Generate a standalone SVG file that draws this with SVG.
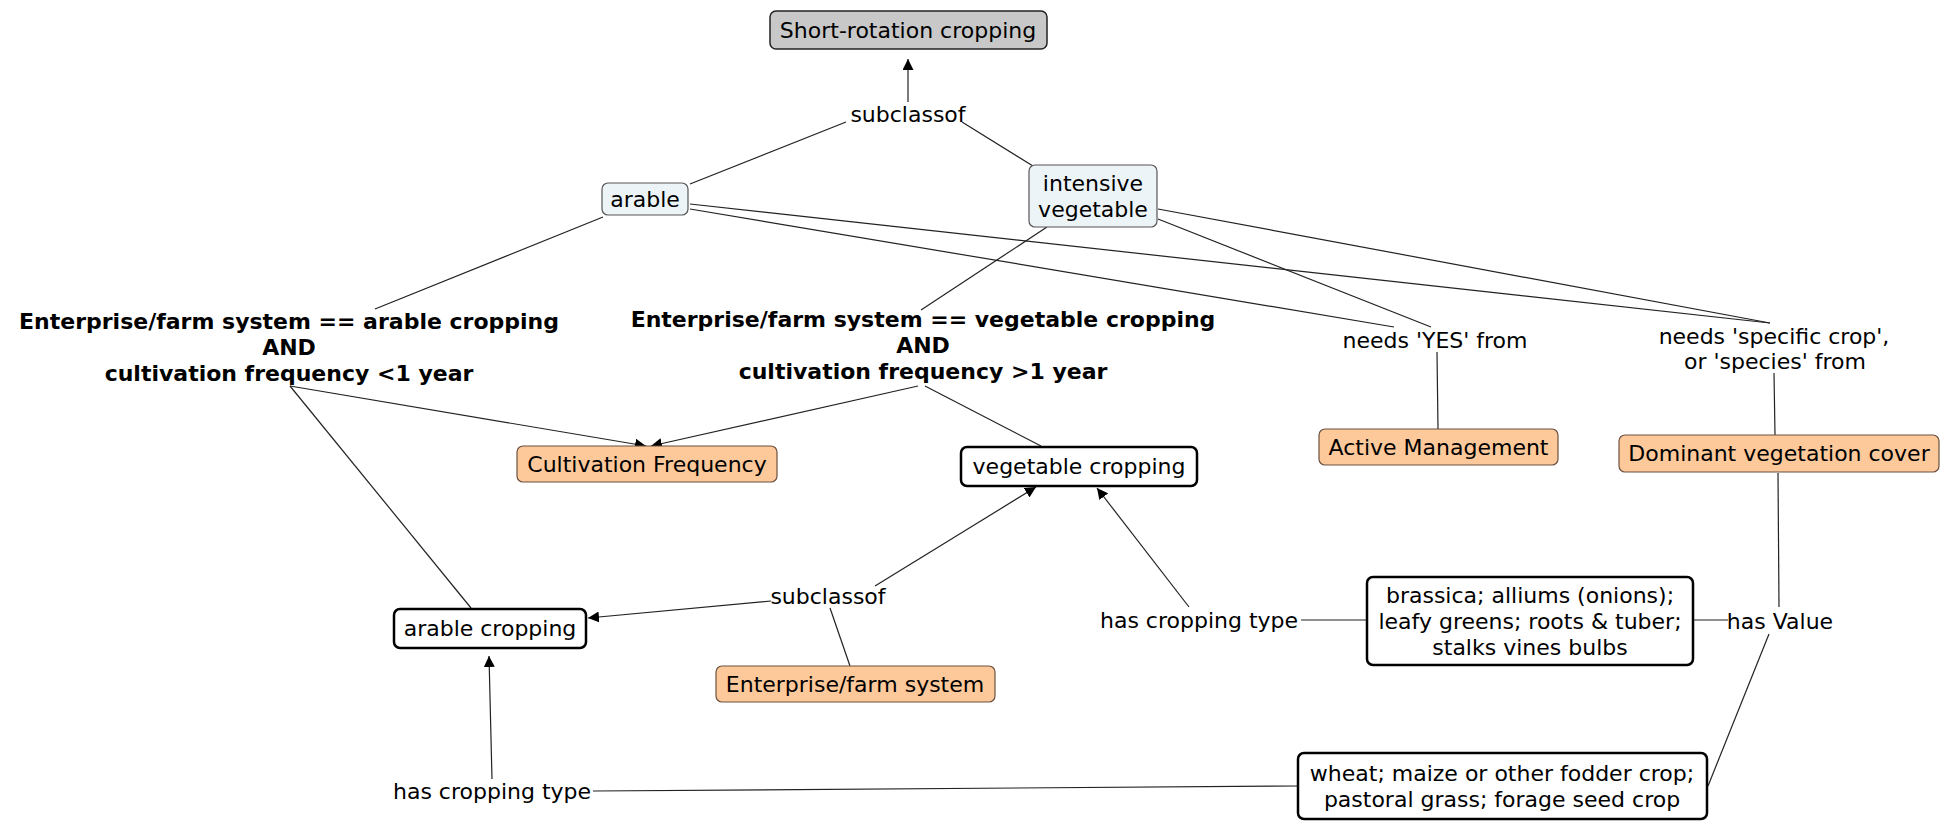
<svg xmlns="http://www.w3.org/2000/svg" width="1959" height="821" viewBox="0 0 1959 821">
  <style>
    text { font-family: "DejaVu Sans", "Liberation Sans", sans-serif; font-size: 22px; fill: #000; text-anchor: middle; dominant-baseline: central; }
    .bold { font-weight: bold; }
    .link { stroke: #222; stroke-width: 1.2; fill: none; }
    .top { fill: #c8c8c8; stroke: #222; stroke-width: 1.5; }
    .cls { fill: #edf4f7; stroke: #555; stroke-width: 1.2; }
    .prop { fill: #fdc99a; stroke: #6b5040; stroke-width: 1.2; }
    .val { fill: #fff; stroke: #000; stroke-width: 2.5; }
  </style>
  <defs>
    <marker id="arrow" viewBox="0 0 10 10" refX="10" refY="5" markerWidth="11" markerHeight="11" markerUnits="userSpaceOnUse" orient="auto">
      <path d="M0,0 L10,5 L0,10 z" fill="#000"/>
    </marker>
  </defs>
  <rect width="1959" height="821" fill="#fff"/>

  <g id="connectors">
    <line class="link" x1="908" y1="102" x2="908" y2="59" marker-end="url(#arrow)"/>
    <line class="link" x1="690" y1="184" x2="846" y2="122"/>
    <line class="link" x1="1033" y1="166" x2="962" y2="122"/>
    <line class="link" x1="603" y1="217" x2="375" y2="309"/>
    <line class="link" x1="1047" y1="227" x2="921" y2="310"/>
    <line class="link" x1="690" y1="209" x2="1394" y2="327"/>
    <line class="link" x1="690" y1="204" x2="1770" y2="323"/>
    <line class="link" x1="1158" y1="219" x2="1431" y2="327"/>
    <line class="link" x1="1158" y1="209" x2="1770" y2="323"/>
    <line class="link" x1="1437" y1="352" x2="1438" y2="429"/>
    <line class="link" x1="1774" y1="373" x2="1775" y2="435"/>
    <line class="link" x1="290" y1="386" x2="646" y2="446" marker-end="url(#arrow)"/>
    <line class="link" x1="918" y1="386" x2="651" y2="446" marker-end="url(#arrow)"/>
    <line class="link" x1="925" y1="386" x2="1041" y2="446"/>
    <line class="link" x1="290" y1="386" x2="471" y2="608"/>
    <line class="link" x1="875" y1="586" x2="1036" y2="487" marker-end="url(#arrow)"/>
    <line class="link" x1="771" y1="601" x2="588" y2="618" marker-end="url(#arrow)"/>
    <line class="link" x1="850" y1="666" x2="830" y2="608"/>
    <line class="link" x1="1189" y1="607" x2="1097" y2="488" marker-end="url(#arrow)"/>
    <line class="link" x1="1301" y1="620" x2="1367" y2="620"/>
    <line class="link" x1="1693" y1="620" x2="1728" y2="620"/>
    <line class="link" x1="1779" y1="607" x2="1778" y2="473"/>
    <line class="link" x1="1769" y1="634" x2="1708" y2="786"/>
    <line class="link" x1="492" y1="779" x2="489" y2="656" marker-end="url(#arrow)"/>
    <line class="link" x1="593" y1="791" x2="1298" y2="786"/>
  </g>

  <g id="labels">
    <text x="908" y="114">subclassof</text>
    <text class="bold" x="289" y="321">Enterprise/farm system == arable cropping</text>
    <text class="bold" x="289" y="347">AND</text>
    <text class="bold" x="289" y="373">cultivation frequency &lt;1 year</text>
    <text class="bold" x="923" y="319">Enterprise/farm system == vegetable cropping</text>
    <text class="bold" x="923" y="345">AND</text>
    <text class="bold" x="923" y="371">cultivation frequency &gt;1 year</text>
    <text x="1435" y="340">needs 'YES' from</text>
    <text x="1774" y="336">needs 'specific crop',</text>
    <text x="1775" y="361">or 'species' from</text>
    <text x="828" y="596">subclassof</text>
    <text x="1199" y="620">has cropping type</text>
    <text x="1780" y="621">has Value</text>
    <text x="492" y="791">has cropping type</text>
  </g>

  <g id="short-rotation-cropping">
    <rect class="top" x="770" y="11" width="277" height="38" rx="6"/>
    <text x="908" y="30">Short-rotation cropping</text>
  </g>
  <g id="arable">
    <rect class="cls" x="602" y="183" width="86" height="32" rx="6"/>
    <text x="645" y="199">arable</text>
  </g>
  <g id="intensive-vegetable">
    <rect class="cls" x="1029" y="165" width="128" height="62" rx="6"/>
    <text x="1093" y="183">intensive</text>
    <text x="1093" y="209">vegetable</text>
  </g>
  <g id="cultivation-frequency">
    <rect class="prop" x="517" y="446" width="260" height="36" rx="6"/>
    <text x="647" y="464">Cultivation Frequency</text>
  </g>
  <g id="vegetable-cropping">
    <rect class="val" x="961" y="447" width="236" height="39" rx="6"/>
    <text x="1079" y="466.5">vegetable cropping</text>
  </g>
  <g id="active-management">
    <rect class="prop" x="1319" y="429" width="239" height="36" rx="6"/>
    <text x="1438.5" y="447">Active Management</text>
  </g>
  <g id="dominant-vegetation-cover">
    <rect class="prop" x="1619" y="435" width="320" height="37" rx="6"/>
    <text x="1779" y="453.5">Dominant vegetation cover</text>
  </g>
  <g id="arable-cropping">
    <rect class="val" x="394" y="609" width="192" height="39" rx="6"/>
    <text x="490" y="628.5">arable cropping</text>
  </g>
  <g id="vegetable-types">
    <rect class="val" x="1367" y="577" width="326" height="88" rx="6"/>
    <text x="1530" y="595">brassica; alliums (onions);</text>
    <text x="1530" y="621">leafy greens; roots &amp; tuber;</text>
    <text x="1530" y="647">stalks vines bulbs</text>
  </g>
  <g id="enterprise-farm-system">
    <rect class="prop" x="716" y="666" width="279" height="36" rx="6"/>
    <text x="855" y="684">Enterprise/farm system</text>
  </g>
  <g id="arable-types">
    <rect class="val" x="1298" y="753" width="409" height="66" rx="6"/>
    <text x="1502" y="773">wheat; maize or other fodder crop;</text>
    <text x="1502" y="799">pastoral grass; forage seed crop</text>
  </g>
</svg>
